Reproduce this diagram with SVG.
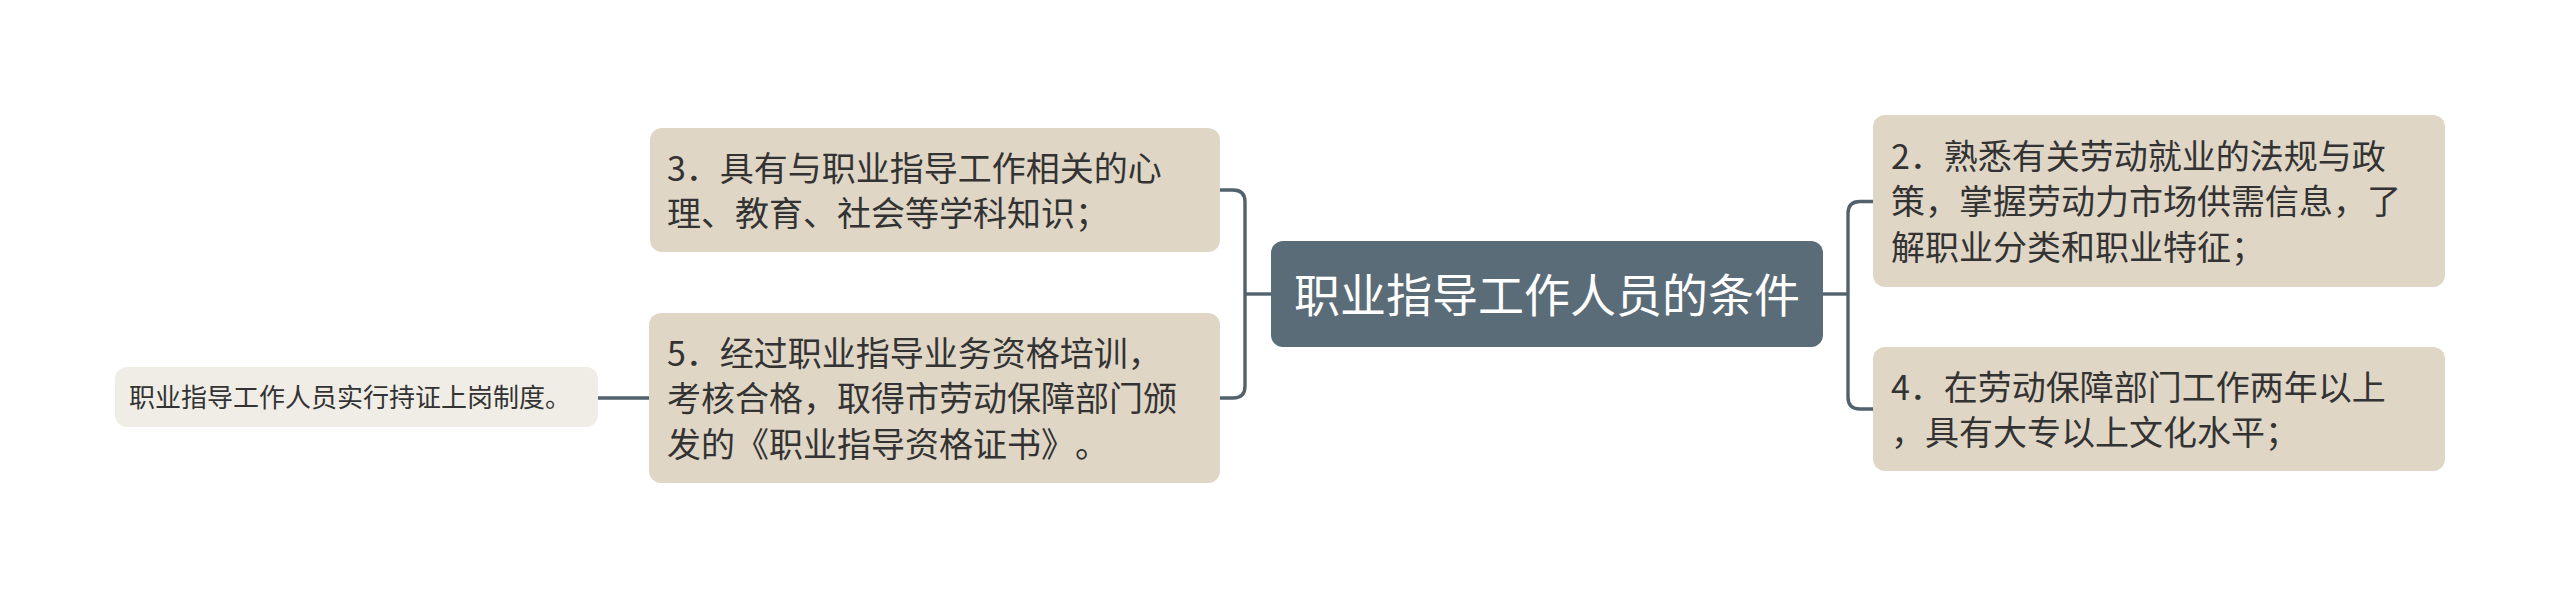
<svg xmlns="http://www.w3.org/2000/svg" width="2560" height="599" viewBox="0 0 2560 599">
<style>
.t{font-family:"Noto Sans CJK SC","Microsoft YaHei",sans-serif;fill:#333333;font-size:34px;text-spacing-trim:space-all;font-kerning:none}
.sub{fill:#e0d6c6}
.leaf{fill:#f0ede6}
.root{fill:#5a6c78}
.c{fill:none;stroke:#52626d;stroke-width:3.4;stroke-linecap:butt}
</style>
<rect width="2560" height="599" fill="#ffffff"/>
<g id="connectors">
<path class="c" d="M1823,294 H1848"/>
<path class="c" d="M1873,201.5 H1860 Q1848,201.5 1848,213.5 V397 Q1848,409 1860,409 H1873"/>
<path class="c" d="M1271,294 H1245"/>
<path class="c" d="M1220,190 H1233 Q1245,190 1245,202 V386 Q1245,398 1233,398 H1220"/>
<path class="c" d="M598,398 H650"/>
</g>
<g id="root">
<rect class="root" x="1271" y="241" width="552" height="106" rx="12"/>
<text class="t" x="1294" y="311.5" style="font-size:46px;fill:#ffffff">职业指导工作人员的条件</text>
</g>
<g id="node2">
<rect class="sub" x="1873" y="115" width="572" height="172" rx="12"/>
<text class="t" x="1891" y="168.5">2．熟悉有关劳动就业的法规与政</text>
<text class="t" x="1891" y="214">策，掌握劳动力市场供需信息，了</text>
<text class="t" x="1891" y="259.5">解职业分类和职业特征；</text>
</g>
<g id="node4">
<rect class="sub" x="1873" y="347" width="572" height="124" rx="12"/>
<text class="t" x="1891" y="399.5">4．在劳动保障部门工作两年以上</text>
<text class="t" x="1891" y="445">，具有大专以上文化水平；</text>
</g>
<g id="node3">
<rect class="sub" x="650" y="128" width="570" height="124" rx="12"/>
<text class="t" x="667" y="180.5">3．具有与职业指导工作相关的心</text>
<text class="t" x="667" y="226">理、教育、社会等学科知识；</text>
</g>
<g id="node5">
<rect class="sub" x="649" y="313" width="571" height="170" rx="12"/>
<text class="t" x="667" y="365.5">5．经过职业指导业务资格培训，</text>
<text class="t" x="667" y="411">考核合格，取得市劳动保障部门颁</text>
<text class="t" x="667" y="456.5">发的《职业指导资格证书》。</text>
</g>
<g id="leaf">
<rect class="leaf" x="115" y="367" width="483" height="60" rx="12"/>
<text class="t" x="129" y="407" style="font-size:26px">职业指导工作人员实行持证上岗制度。</text>
</g>
</svg>
